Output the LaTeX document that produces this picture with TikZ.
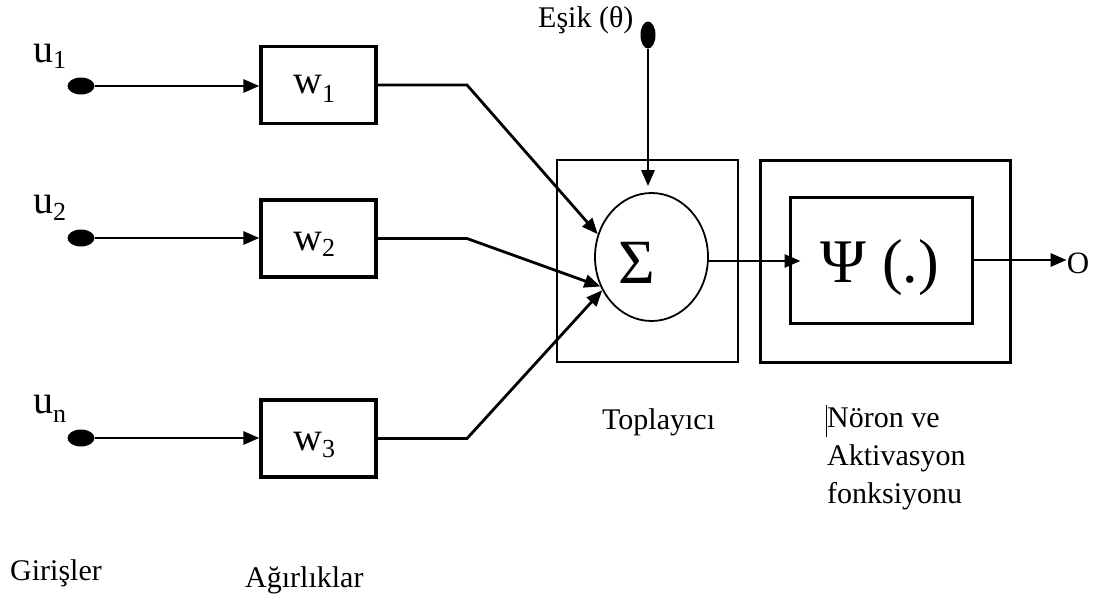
\documentclass[tikz,border=0pt]{standalone}
\usepackage{fontspec}
\setmainfont{Liberation Serif}
\usetikzlibrary{arrows.meta,shapes.geometric,calc}
% smaller, lowered index: #1 = drop in pt, #2 = index text
\newcommand{\lowsub}[2]{\raisebox{-#1pt}{\fontsize{26}{26}\selectfont #2}}
\begin{document}
\begin{tikzpicture}[x=1pt,y=-1pt,
  wbox/.style={draw,line width=3.3pt,minimum width=115pt,minimum height=77pt,inner sep=0pt},
  frame/.style={draw,line width=3pt,inner sep=0pt},
  indot/.style={ellipse,fill=black,inner sep=0pt,minimum width=27pt,minimum height=17pt},
  biasdot/.style={ellipse,fill=black,inner sep=0pt,minimum width=15pt,minimum height=27pt},
  conn/.style={line width=2.8pt,-{Triangle[length=16pt,width=13pt]}},
  lbl/.style={font=\fontsize{30}{38}\selectfont,inner sep=0pt,anchor=base west},
  inlbl/.style={font=\fontsize{40}{40}\selectfont,inner sep=0pt,anchor=base west},
]
\useasboundingbox (0,0) rectangle (1096,600);

% inputs
\node[indot] (d1) at (81,86) {};
\node[indot] (d2) at (81,238) {};
\node[indot] (d3) at (81,438) {};
\node[inlbl] (lu1) at (33,62) {u\lowsub{6}{1}};
\node[inlbl] (lu2) at (33,213) {u\lowsub{7}{2}};
\node[inlbl] (lun) at (33,413) {u\lowsub{9}{n}};

% weights
\node[wbox] (w1) at (318.5,85) {};
\node[wbox] (w2) at (318.5,238.5) {};
\node[wbox] (w3) at (318.5,438.5) {};
\node[inlbl] (lw1) at (293,93) {w\lowsub{9}{1}};
\node[inlbl] (lw2) at (293,250) {w\lowsub{6}{2}};
\node[inlbl] (lw3) at (293,450) {w\lowsub{7}{3}};

\draw[conn] (d1.east) -- (d1.east -| w1.west);
\draw[conn] (d2.east) -- (d2.east -| w2.west);
\draw[conn] (d3.east) -- (d3.east -| w3.west);

% summing junction
\node[frame,line width=2.6pt,minimum width=181pt,minimum height=202pt] (sbox) at (647.5,261) {};
\node[ellipse,draw,line width=1.8pt,minimum width=113pt,minimum height=128pt,inner sep=0pt] (sum) at (651.5,257) {};
\node[inner sep=0pt,font=\fontsize{63}{63}\selectfont] (sigma) at (637,263) {Σ};

\coordinate (b1) at (467,85);
\coordinate (b2) at (467,238.5);
\coordinate (b3) at (467,438.5);
\draw[conn] (w1.east) -- (b1) -- (sum.157);
\draw[conn] (w2.east) -- (b2) -- (sum.210);
\draw[conn] (w3.east) -- (b3) -- (sum.214);

% threshold
\node[biasdot] (theta) at (648,35) {};
\node[lbl] (esik) at (538,27) {Eşik (θ)};
\draw[conn,shorten >=6pt] (theta.south) -- (theta.south |- sum.north);

% neuron and activation
\node[frame,minimum width=250pt,minimum height=202pt] (nbox) at (885,261) {};
\node[frame,minimum width=182pt,minimum height=126pt] (inner) at (881,260) {};
\node[inner sep=0pt,font=\fontsize{62}{62}\selectfont] (psi) at (880,268) {Ψ (.)};
\draw[conn] (sum.-4) -- ($(inner.west |- sum.-4)+(12,0)$);

% output
\node[inner sep=0pt,font=\fontsize{31}{31}\selectfont] (oout) at (1078,263) {O};
\draw[conn] (inner.east) -- (inner.east -| oout.west);

% captions
\node[lbl] (cap1) at (602,429) {Toplayıcı};
\node[lbl,align=left,anchor=north west] (cap2) at (827,408) {Nöron ve\\Aktivasyon\\fonksiyonu};
\draw[line width=1pt] (826,405) -- (826,437);
\node[lbl] (cap3) at (10,580) {Girişler};
\node[lbl] (cap4) at (245,587) {Ağırlıklar};
\end{tikzpicture}
\end{document}
